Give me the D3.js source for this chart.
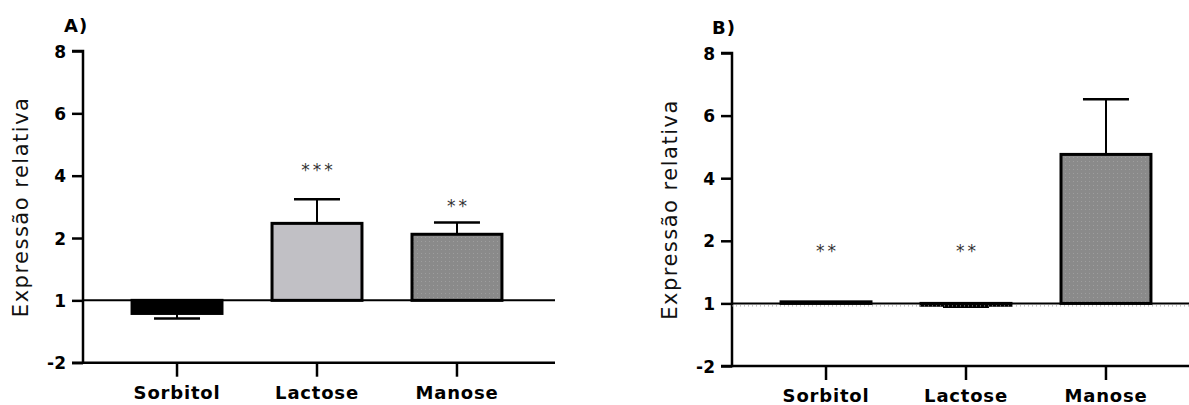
<!DOCTYPE html>
<html><head><meta charset="utf-8">
<script src="https://cdn.jsdelivr.net/npm/d3@7"></script>
<style>
html,body{margin:0;padding:0;background:#fff;}
svg text{font-family:"DejaVu Sans",Verdana,sans-serif;}
</style></head>
<body>
<svg id="chart" width="1189" height="405"></svg>
<script>
const categories = ["Sorbitol", "Lactose", "Manose"];
const tickValues = [-2, 0, 2, 4, 6, 8];
const tickLabels = ["-2", "1", "2", "4", "6", "8"];
const valuesA = [-0.42, 2.47, 2.12];
const errorsA = [-0.16, 0.77, 0.38];
const starsA = ["", "***", "**"];
const valuesB = [0.05, -0.06, 4.76];
const errorsB = [0.0, -0.05, 1.76];
const starsB = ["**", "**", ""];
const fills = ["#000000", "#c1c0c5", "url(#dots)"];

const svg = d3.select("#chart");
const defs = svg.append("defs");
const pat = defs.append("pattern").attr("id","dots").attr("patternUnits","userSpaceOnUse")
  .attr("width",4).attr("height",4);
pat.append("rect").attr("width",4).attr("height",4).attr("fill","#8a8a8a");
pat.append("rect").attr("x",1).attr("y",1).attr("width",1).attr("height",1).attr("fill","#9e9e9e");

function panel(cfg){
  const g = svg.append("g");
  const y = d3.scaleLinear().domain([-2, 8]).range([cfg.bottom, cfg.top]);
  const x = d3.scaleBand().domain(categories).range([cfg.x0, cfg.x1])
    .paddingInner(0.336).paddingOuter(0.354);

  // y axis
  const ya = g.append("g").attr("transform", `translate(${cfg.axisX},0)`)
    .call(d3.axisLeft(y).tickValues(tickValues).tickFormat((d,i)=>tickLabels[i]).tickSize(11).tickPadding(6));
  ya.select(".domain").attr("stroke","#000").attr("stroke-width",2.5).attr("d",`M-11,${y(8)}H0V${y(-2)}H-11`);
  ya.selectAll(".tick line").attr("stroke","#000").attr("stroke-width",2.5);
  ya.selectAll(".tick text").attr("fill","#000").attr("font-size",17).attr("font-weight","bold")
    .attr("font-family","DejaVu Sans").attr("dy","0.36em");

  // x axis
  const xa = g.append("g").attr("transform", `translate(0,${y(-2)})`)
    .call(d3.axisBottom(x).tickSize(14).tickPadding(8));
  xa.select(".domain").attr("stroke","#000").attr("stroke-width",2.5).attr("d",`M${cfg.axisX},0H${cfg.xEnd}`);
  xa.selectAll(".tick line").attr("stroke","#000").attr("stroke-width",2.5);
  xa.selectAll(".tick text").attr("fill","#000").attr("font-size",18).attr("font-weight","bold")
    .attr("font-family","DejaVu Sans").attr("letter-spacing",0.8).attr("dy",null).attr("y",36);

  // bars
  const vals = cfg.values;
  g.selectAll("rect.bar").data(categories).enter().append("rect").attr("class","bar")
    .attr("x", d=>x(d)+1.5).attr("width", x.bandwidth()-3)
    .attr("y", (d,i)=>Math.min(y(vals[i]), y(0)))
    .attr("height", (d,i)=>Math.max(Math.abs(y(vals[i])-y(0)), 0.5))
    .attr("fill", (d,i)=>fills[i]).attr("stroke","#000").attr("stroke-width",3);

  // error bars
  const cw = 46;
  categories.forEach((c,i)=>{
    if (cfg.errors[i] === 0) return;
    const cx = x(c) + x.bandwidth()/2;
    const y1 = y(vals[i]), y2 = y(vals[i]+cfg.errors[i]);
    g.append("line").attr("x1",cx).attr("x2",cx).attr("y1",y1).attr("y2",y2)
      .attr("stroke","#000").attr("stroke-width",2);
    g.append("line").attr("x1",cx-cw/2).attr("x2",cx+cw/2).attr("y1",y2).attr("y2",y2)
      .attr("stroke","#000").attr("stroke-width",2.5);
  });

  // zero line
  if (cfg.dotted) {
    g.append("line").attr("x1",cfg.axisX).attr("x2",cfg.xEnd).attr("y1",y(0)+2.5).attr("y2",y(0)+2.5)
      .attr("stroke","#999").attr("stroke-width",1).attr("stroke-dasharray","1,3");
  }
  g.append("line").attr("x1",cfg.axisX).attr("x2",cfg.xEnd).attr("y1",y(0)).attr("y2",y(0))
    .attr("stroke","#000").attr("stroke-width",2);

  // stars
  categories.forEach((c,i)=>{
    if(!cfg.stars[i]) return;
    g.append("text").attr("x", x(c)+x.bandwidth()/2 + 1.5).attr("y", cfg.starY[i])
      .attr("text-anchor","middle").attr("font-size",17).attr("letter-spacing",3)
      .attr("fill","#333").text(cfg.stars[i]);
  });

  // title
  g.append("text").attr("transform",`translate(${cfg.titleX},${(y(8)+y(-2))/2}) rotate(-90)`)
    .attr("text-anchor","middle").attr("font-size",21).attr("fill","#111").attr("letter-spacing",1.5)
    .text("Expressão relativa");
  g.append("text").attr("x",cfg.labelX).attr("y",cfg.labelY).attr("font-size",18)
    .attr("font-weight","bold").attr("fill","#000").attr("letter-spacing",1).text(cfg.label);
}

panel({top:51, bottom:362.7, axisX:83, x0:81, x1:553, xEnd:555, values:valuesA, errors:errorsA,
  stars:starsA, starY:[0,176,212], titleX:28, label:"A)", labelX:64, labelY:32, dotted:false});
panel({top:53, bottom:366, axisX:732, x0:730, x1:1202, xEnd:1189, values:valuesB, errors:errorsB,
  stars:starsB, starY:[257,257,0], titleX:677, label:"B)", labelX:712, labelY:34, dotted:true});
</script>
</body></html>
